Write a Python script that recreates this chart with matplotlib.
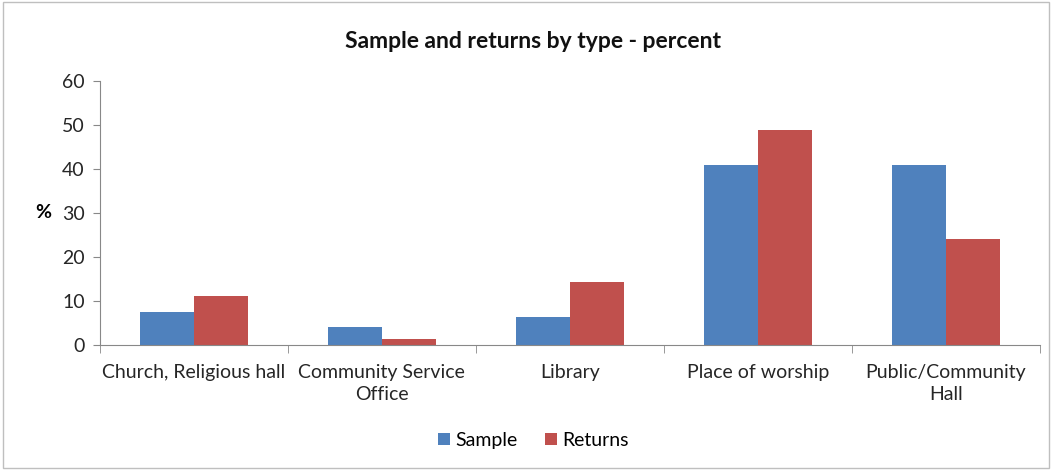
import numpy as np
import matplotlib.pyplot as plt
from matplotlib.patches import Rectangle

plt.rcParams['font.family'] = ['Lato', 'DejaVu Sans']

# Dados do gráfico
categorias = ['Church, Religious hall', 'Community Service\nOffice', 'Library',
              'Place of worship', 'Public/Community\nHall']
sample = [7.6, 4.1, 6.3, 41.0, 41.0]
returns = [11.2, 1.4, 14.3, 48.8, 24.2]

fig = plt.figure(figsize=(10.52, 4.7), dpi=100)
ax = fig.add_axes([0.095, 0.266, 0.8935, 0.5617])

x = np.arange(len(categorias))
largura = 1 / 3.5
ax.bar(x - largura / 2, sample, largura, color='#4F81BD', label='Sample')
ax.bar(x + largura / 2, returns, largura, color='#C0504D', label='Returns')

ax.set_xlim(-0.5, len(categorias) - 0.5)
ax.set_ylim(0, 60)
ax.set_yticks(range(0, 61, 10))
ax.set_xticks(x)
ax.set_xticklabels(categorias, fontsize=14, color='#262626', linespacing=1.3)
ax.tick_params(axis='x', length=0, pad=14)
ax.set_xticks(np.arange(-0.5, len(categorias), 1), minor=True)
ax.tick_params(axis='x', which='minor', length=6, color='#888888', direction='out')
ax.tick_params(axis='y', labelsize=14, labelcolor='#262626', length=5, color='#888888', pad=6)

for lado in ['top', 'right']:
    ax.spines[lado].set_visible(False)
for lado in ['left', 'bottom']:
    ax.spines[lado].set_color('#888888')

ax.set_ylabel('%', fontsize=14, fontweight='bold', rotation=0, va='center', ha='center')
ax.yaxis.set_label_coords(-0.06, 0.5)
fig.text(0.507, 0.912, 'Sample and returns by type - percent', fontsize=16.5,
         fontweight='bold', ha='center', va='center', color='#111111')

fig.legend(*ax.get_legend_handles_labels(), loc='center', bbox_to_anchor=(0.507, 0.063),
           ncol=2, frameon=False, fontsize=14, handlelength=0.6, handleheight=0.6,
           handletextpad=0.3, columnspacing=1.4)

# Borda externa
fig.patches.append(Rectangle((0.003, 0.005), 0.994, 0.99, transform=fig.transFigure,
                             fill=False, edgecolor='#BFBFBF', linewidth=1))

fig.savefig('out.png', dpi=100)
